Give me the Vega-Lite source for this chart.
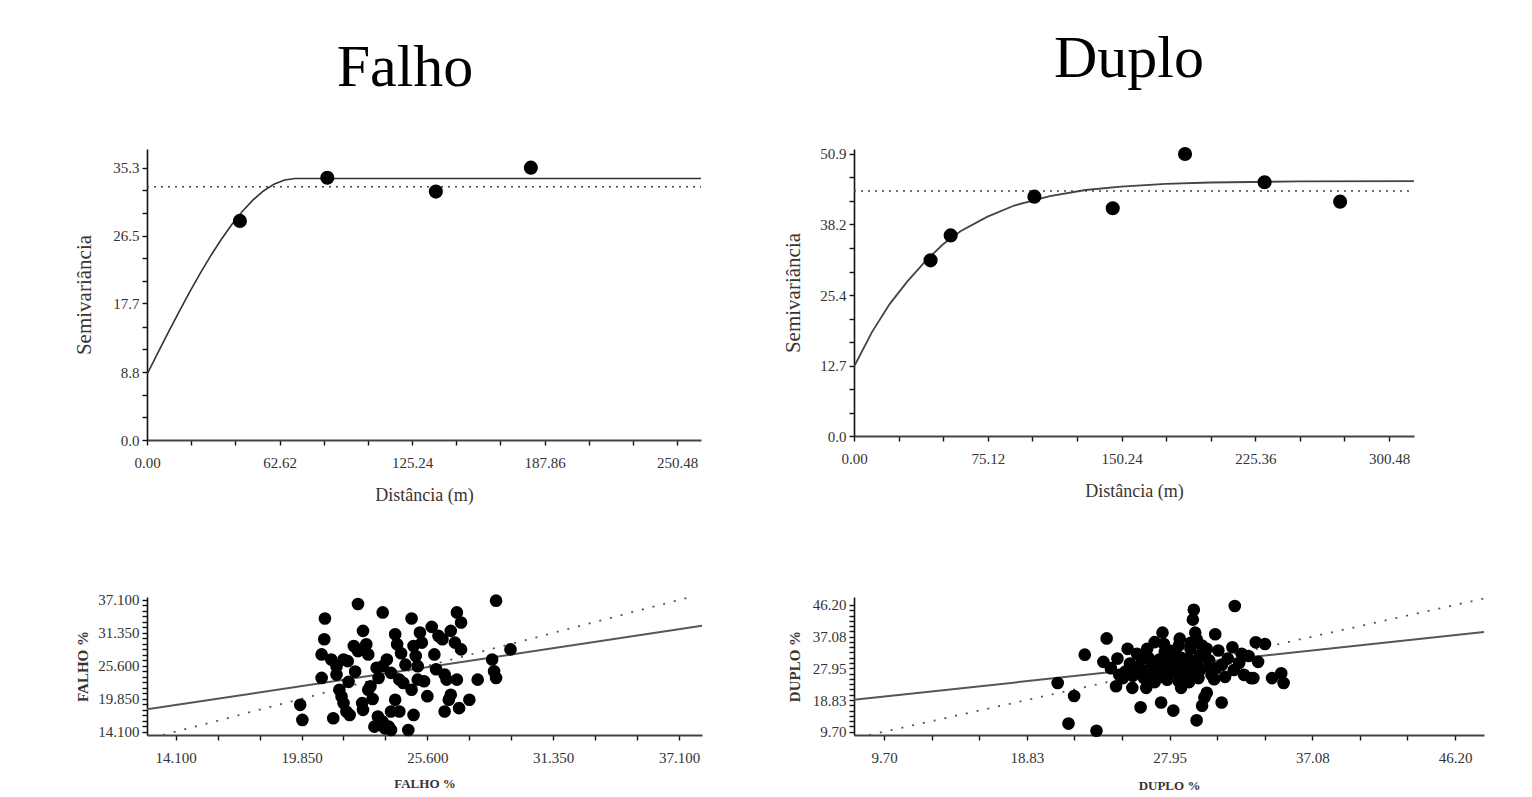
{
"$schema": "https://vega.github.io/schema/vega-lite/v6.json",
"background": "white",
"padding": {"left": 73, "top": 28, "right": 5, "bottom": 5},
"datasets": {
"tl_points": [{"x":43.9,"y":28.4},{"x":85.2,"y":34.0},{"x":136.5,"y":32.2},{"x":181.4,"y":35.3}],
"tl_curve": [{"x":0,"y":8.5},{"x":5,"y":11.22},{"x":10,"y":13.91},{"x":15,"y":16.54},{"x":20,"y":19.09},{"x":25,"y":21.53},{"x":30,"y":23.83},{"x":35,"y":25.96},{"x":40,"y":27.9},{"x":45,"y":29.62},{"x":50,"y":31.09},{"x":55,"y":32.28},{"x":60,"y":33.16},{"x":65,"y":33.71},{"x":70,"y":33.9},{"x":261.8,"y":33.9}],
"tl_var": [{"x":0,"y":32.84},{"x":261.8,"y":32.84}],
"tr_points": [{"x":43.0,"y":31.7},{"x":54.3,"y":36.2},{"x":101.3,"y":43.2},{"x":145.3,"y":41.1},{"x":185.9,"y":50.9},{"x":230.6,"y":45.8},{"x":273.0,"y":42.3}],
"tr_curve": [{"x":0,"y":12.5},{"x":10,"y":18.7},{"x":20,"y":23.8},{"x":30,"y":27.9},{"x":40,"y":31.5},{"x":50,"y":34.6},{"x":60,"y":37.0},{"x":75,"y":39.6},{"x":90,"y":41.6},{"x":110,"y":43.3},{"x":130,"y":44.4},{"x":150,"y":45.0},{"x":175,"y":45.5},{"x":200,"y":45.75},{"x":250,"y":45.95},{"x":314.5,"y":46.0}],
"tr_var": [{"x":0,"y":44.2},{"x":314.5,"y":44.2}],
"bl_points": [{"x":19.79,"y":18.79},{"x":19.89,"y":16.15},{"x":20.92,"y":33.87},{"x":20.89,"y":30.24},{"x":20.77,"y":27.59},{"x":20.77,"y":23.49},{"x":21.21,"y":26.71},{"x":21.45,"y":25.54},{"x":22.43,"y":36.4},{"x":21.3,"y":16.45},{"x":21.45,"y":24.07},{"x":21.58,"y":21.43},{"x":21.68,"y":20.26},{"x":21.77,"y":19.09},{"x":21.9,"y":17.62},{"x":22.05,"y":17.03},{"x":21.77,"y":26.71},{"x":21.96,"y":26.42},{"x":22.24,"y":29.06},{"x":22.43,"y":28.18},{"x":22.66,"y":31.7},{"x":22.81,"y":29.36},{"x":22.9,"y":27.59},{"x":22.62,"y":19.09},{"x":22.66,"y":17.91},{"x":22.9,"y":21.43},{"x":23.0,"y":22.02},{"x":23.18,"y":14.98},{"x":23.34,"y":16.74},{"x":23.47,"y":15.27},{"x":23.56,"y":15.86},{"x":23.66,"y":14.69},{"x":23.84,"y":14.98},{"x":23.94,"y":14.39},{"x":23.56,"y":34.93},{"x":23.28,"y":25.25},{"x":23.37,"y":23.49},{"x":23.56,"y":25.54},{"x":23.75,"y":26.71},{"x":23.94,"y":24.37},{"x":24.13,"y":31.12},{"x":24.22,"y":29.36},{"x":24.32,"y":23.19},{"x":24.5,"y":22.61},{"x":24.13,"y":19.67},{"x":24.32,"y":17.62},{"x":23.94,"y":17.62},{"x":24.88,"y":33.87},{"x":24.97,"y":29.06},{"x":25.07,"y":27.3},{"x":25.16,"y":25.54},{"x":24.88,"y":21.43},{"x":24.97,"y":17.03},{"x":24.73,"y":14.39},{"x":25.26,"y":31.41},{"x":25.35,"y":29.65},{"x":25.45,"y":22.9},{"x":25.16,"y":23.19},{"x":25.92,"y":27.59},{"x":26.11,"y":30.82},{"x":26.29,"y":30.24},{"x":26.39,"y":24.07},{"x":26.48,"y":23.19},{"x":26.58,"y":19.67},{"x":26.39,"y":17.62},{"x":26.67,"y":20.55},{"x":26.67,"y":31.7},{"x":26.86,"y":29.65},{"x":26.95,"y":34.93},{"x":27.14,"y":33.17},{"x":27.14,"y":28.47},{"x":27.05,"y":18.21},{"x":26.95,"y":23.19},{"x":27.52,"y":19.67},{"x":27.9,"y":23.19},{"x":28.56,"y":26.71},{"x":28.65,"y":24.66},{"x":28.74,"y":23.49},{"x":28.74,"y":36.98},{"x":29.4,"y":28.47},{"x":22.0,"y":22.8},{"x":23.1,"y":19.8},{"x":24.6,"y":25.8},{"x":25.6,"y":20.3},{"x":26.0,"y":25.0},{"x":22.3,"y":24.6},{"x":25.8,"y":32.4},{"x":24.4,"y":27.8}],
"bl_fit": [{"x":12.79,"y":18.0},{"x":38.15,"y":32.6}],
"bl_id": [{"x":13.52,"y":13.52},{"x":38.15,"y":38.15}],
"br_points": [{"x":20.8,"y":23.74},{"x":21.85,"y":19.99},{"x":21.49,"y":12.04},{"x":23.28,"y":9.98},{"x":22.53,"y":31.88},{"x":23.93,"y":36.56},{"x":23.72,"y":29.82},{"x":24.62,"y":30.76},{"x":24.53,"y":22.8},{"x":24.73,"y":26.08},{"x":25.27,"y":33.57},{"x":25.57,"y":22.33},{"x":25.42,"y":29.35},{"x":25.12,"y":27.01},{"x":26.1,"y":16.72},{"x":25.87,"y":27.95},{"x":26.16,"y":30.76},{"x":26.52,"y":33.57},{"x":26.76,"y":29.82},{"x":26.91,"y":26.55},{"x":27.2,"y":25.14},{"x":27.35,"y":27.95},{"x":27.41,"y":18.12},{"x":27.5,"y":38.24},{"x":27.59,"y":34.97},{"x":27.65,"y":32.63},{"x":27.8,"y":24.67},{"x":28.1,"y":30.76},{"x":28.19,"y":15.78},{"x":28.25,"y":27.01},{"x":28.54,"y":34.5},{"x":28.69,"y":22.33},{"x":28.84,"y":28.89},{"x":28.99,"y":25.14},{"x":29.14,"y":30.76},{"x":29.29,"y":33.57},{"x":29.44,"y":41.99},{"x":29.5,"y":44.8},{"x":29.59,"y":38.24},{"x":29.68,"y":36.37},{"x":29.74,"y":28.89},{"x":29.8,"y":25.14},{"x":29.88,"y":31.69},{"x":29.68,"y":12.98},{"x":30.03,"y":17.19},{"x":30.18,"y":19.53},{"x":30.33,"y":20.93},{"x":30.03,"y":34.5},{"x":30.87,"y":37.78},{"x":30.93,"y":27.95},{"x":31.07,"y":33.1},{"x":31.28,"y":18.12},{"x":31.97,"y":34.03},{"x":32.06,"y":27.48},{"x":32.12,"y":45.92},{"x":32.56,"y":32.16},{"x":32.71,"y":26.08},{"x":33.16,"y":25.14},{"x":33.31,"y":25.14},{"x":33.61,"y":29.82},{"x":33.46,"y":35.44},{"x":34.05,"y":34.97},{"x":34.5,"y":25.14},{"x":35.09,"y":26.55},{"x":35.24,"y":23.74},{"x":26.31,"y":25.14},{"x":28.4,"y":31.69},{"x":27.95,"y":28.42},{"x":29.29,"y":27.01},{"x":30.48,"y":30.29},{"x":30.63,"y":26.08},{"x":31.67,"y":30.76},{"x":25.87,"y":32.16},{"x":24.97,"y":25.14},{"x":26.46,"y":22.33},{"x":27.65,"y":29.82},{"x":28.54,"y":24.21},{"x":30.33,"y":33.57},{"x":26.0,"y":28.5},{"x":26.6,"y":31.0},{"x":27.0,"y":24.0},{"x":27.3,"y":30.5},{"x":27.8,"y":26.2},{"x":28.0,"y":33.0},{"x":28.3,"y":29.5},{"x":28.7,"y":31.0},{"x":28.9,"y":26.8},{"x":29.2,"y":24.0},{"x":29.5,"y":29.8},{"x":29.9,"y":27.5},{"x":30.2,"y":31.8},{"x":30.5,"y":28.2},{"x":30.8,"y":24.8},{"x":31.3,"y":29.0},{"x":31.5,"y":25.5},{"x":27.0,"y":35.5},{"x":28.6,"y":36.5},{"x":29.3,"y":35.3},{"x":26.3,"y":27.2},{"x":25.6,"y":25.8},{"x":24.2,"y":28.0},{"x":32.4,"y":29.5},{"x":33.0,"y":31.5}],
"br_fit": [{"x":7.78,"y":18.9},{"x":48.05,"y":38.4}],
"br_id": [{"x":8.75,"y":8.75},{"x":48.05,"y":48.05}]
},
"columns": 2,
"spacing": {"row": 157, "column": 152},
"bounds": "flush",
"concat": [
  {"width": 554, "height": 291,
   "title": {"text": "Falho", "frame": "group", "anchor": "middle", "baseline": "alphabetic", "offset": 3, "dx": -19},
   "encoding": {
    "x": {"field": "x", "type": "quantitative", "scale": {"domain": [0, 261.8], "nice": false, "zero": false},
      "axis": {"title": "Distância (m)", "values": [0,20.87,41.75,62.62,83.49,104.37,125.24,146.11,166.99,187.86,208.73,229.61,250.48], "labelExpr": "(datum.value == 0 || datum.value == 62.62 || datum.value == 125.24 || datum.value == 187.86 || datum.value == 250.48) ? format(datum.value, '.2f') : ''", "titlePadding": 16}},
    "y": {"field": "y", "type": "quantitative", "scale": {"domain": [0, 37.72], "nice": false, "zero": false},
      "axis": {"title": "Semivariância", "titleFontSize": 21, "values": [0,2.94,5.88,8.8,11.77,14.71,17.7,20.59,23.53,26.5,29.42,32.36,35.3], "labelExpr": "(datum.value == 0 || datum.value == 8.8 || datum.value == 17.7 || datum.value == 26.5 || datum.value == 35.3) ? format(datum.value, '.1f') : ''", "titlePadding": 18}}
   },
   "layer": [
    {"data": {"name": "tl_var"}, "mark": {"type": "line", "color": "#444", "strokeDash": [2, 5], "strokeWidth": 1.5, "clip": true}},
    {"data": {"name": "tl_curve"}, "mark": {"type": "line", "color": "#333", "strokeWidth": 1.6, "clip": true}},
    {"data": {"name": "tl_points"}, "mark": {"type": "point", "filled": true, "color": "#000", "opacity": 1, "size": 200}}
   ]
  },
  {"width": 560, "height": 287,
   "title": {"text": "Duplo", "frame": "group", "anchor": "middle", "baseline": "alphabetic", "offset": 10, "dx": -5},
   "encoding": {
    "x": {"field": "x", "type": "quantitative", "scale": {"domain": [0, 314.5], "nice": false, "zero": false},
      "axis": {"title": "Distância (m)", "values": [0,25.04,50.08,75.12,100.16,125.2,150.24,175.28,200.32,225.36,250.4,275.44,300.48], "labelExpr": "(datum.value == 0 || datum.value == 75.12 || datum.value == 150.24 || datum.value == 225.36 || datum.value == 300.48) ? format(datum.value, '.2f') : ''", "titlePadding": 16}},
    "y": {"field": "y", "type": "quantitative", "scale": {"domain": [0, 51.8], "nice": false, "zero": false},
      "axis": {"title": "Semivariância", "titleFontSize": 21, "values": [0,4.24,8.47,12.7,16.93,21.17,25.4,29.67,33.93,38.2,42.43,46.67,50.9], "labelExpr": "(datum.value == 0 || datum.value == 12.7 || datum.value == 25.4 || datum.value == 38.2 || datum.value == 50.9) ? format(datum.value, '.1f') : ''", "titlePadding": 16}}
   },
   "layer": [
    {"data": {"name": "tr_var"}, "mark": {"type": "line", "color": "#444", "strokeDash": [2, 5], "strokeWidth": 1.5, "clip": true}},
    {"data": {"name": "tr_curve"}, "mark": {"type": "line", "color": "#444", "strokeWidth": 1.8, "clip": true}},
    {"data": {"name": "tr_points"}, "mark": {"type": "point", "filled": true, "color": "#000", "opacity": 1, "size": 200}}
   ]
  },
  {"width": 555, "height": 138,
   "encoding": {
    "x": {"field": "x", "type": "quantitative", "scale": {"domain": [12.79, 38.15], "nice": false, "zero": false},
      "axis": {"title": "FALHO %", "titleFontWeight": "bold", "titleFontSize": 13, "values": [14.1,16.017,17.933,19.85,21.767,23.683,25.6,27.517,29.433,31.35,33.267,35.183,37.1], "labelExpr": "(datum.value == 14.1 || datum.value == 19.85 || datum.value == 25.6 || datum.value == 31.35 || datum.value == 37.1) ? format(datum.value, '.3f') : ''", "titlePadding": 12}},
    "y": {"field": "y", "type": "quantitative", "scale": {"domain": [13.52, 37.62], "nice": false, "zero": false},
      "axis": {"title": "FALHO %", "titleFontWeight": "bold", "titleFontSize": 15, "values": [14.1,15.058,16.017,16.975,17.933,18.892,19.85,20.808,21.767,22.725,23.683,24.642,25.6,26.558,27.517,28.475,29.433,30.392,31.35,32.308,33.267,34.225,35.183,36.142,37.1], "labelExpr": "(datum.value == 14.1 || datum.value == 19.85 || datum.value == 25.6 || datum.value == 31.35 || datum.value == 37.1) ? format(datum.value, '.3f') : ''", "titlePadding": 7}}
   },
   "layer": [
    {"data": {"name": "bl_id"}, "mark": {"type": "line", "color": "#555", "strokeDash": [2, 9], "strokeWidth": 1.8, "clip": true}},
    {"data": {"name": "bl_fit"}, "mark": {"type": "line", "color": "#555", "strokeWidth": 2, "clip": true}},
    {"data": {"name": "bl_points"}, "mark": {"type": "point", "filled": true, "color": "#000", "opacity": 1, "size": 160}}
   ]
  },
  {"width": 630, "height": 138,
   "encoding": {
    "x": {"field": "x", "type": "quantitative", "scale": {"domain": [7.78, 48.05], "nice": false, "zero": false},
      "axis": {"title": "DUPLO %", "titleFontWeight": "bold", "titleFontSize": 13, "values": [9.7,12.74,15.78,18.83,21.87,24.91,27.95,31.0,34.04,37.08,40.12,43.16,46.2], "labelExpr": "(datum.value == 9.7 || datum.value == 18.83 || datum.value == 27.95 || datum.value == 37.08 || datum.value == 46.2) ? format(datum.value, '.2f') : ''", "titlePadding": 14}},
    "y": {"field": "y", "type": "quantitative", "scale": {"domain": [8.75, 48.5], "nice": false, "zero": false},
      "axis": {"title": "DUPLO %", "titleFontWeight": "bold", "titleFontSize": 15, "values": [9.7,11.22,12.74,14.26,15.78,17.31,18.83,20.35,21.87,23.39,24.91,26.43,27.95,29.47,31.0,32.52,34.04,35.56,37.08,38.6,40.12,41.64,43.16,44.68,46.2], "labelExpr": "(datum.value == 9.7 || datum.value == 18.83 || datum.value == 27.95 || datum.value == 37.08 || datum.value == 46.2) ? format(datum.value, '.2f') : ''", "titlePadding": 10}}
   },
   "layer": [
    {"data": {"name": "br_id"}, "mark": {"type": "line", "color": "#555", "strokeDash": [2, 9], "strokeWidth": 1.8, "clip": true}},
    {"data": {"name": "br_fit"}, "mark": {"type": "line", "color": "#555", "strokeWidth": 2, "clip": true}},
    {"data": {"name": "br_points"}, "mark": {"type": "point", "filled": true, "color": "#000", "opacity": 1, "size": 160}}
   ]
  }
],
"config": {
 "view": {"stroke": null},
 "font": "Liberation Serif",
 "axis": {"grid": false, "labelFont": "Liberation Serif", "titleFont": "Liberation Serif", "labelFontSize": 15, "titleFontSize": 18, "labelColor": "#333", "titleColor": "#3a3333", "titleFontWeight": "normal", "domainColor": "#111", "domainWidth": 1.6, "tickColor": "#111", "tickSize": 5, "tickWidth": 1.4, "labelOverlap": false, "labelFlush": false},
 "axisX": {"labelPadding": 10, "domainWidth": 2.2, "domainColor": "#444"},
 "axisY": {"labelPadding": 3},
 "title": {"font": "Liberation Serif", "fontSize": 60, "fontWeight": "normal", "color": "#000"}
}
}
